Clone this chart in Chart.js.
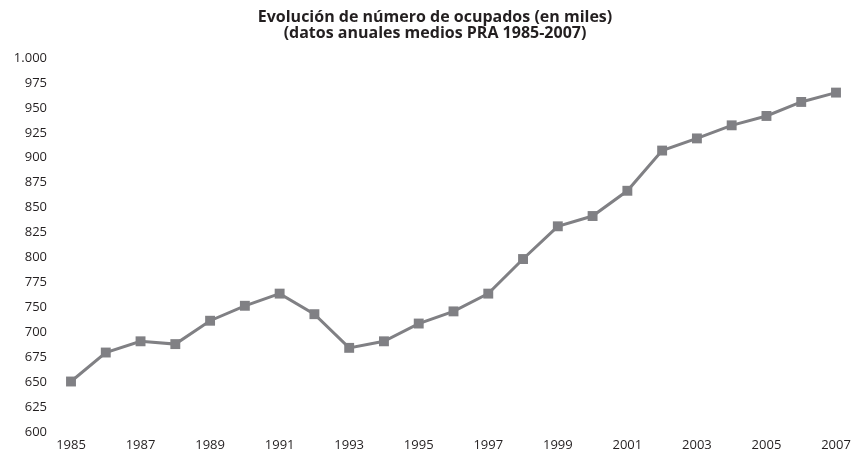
<!DOCTYPE html>
<html>
<head>
<meta charset="utf-8">
<script src="https://cdn.jsdelivr.net/npm/chart.js@4.4.1/dist/chart.umd.min.js"></script>
<style>
  html, body { margin: 0; padding: 0; background: #ffffff; }
  #wrap { width: 859px; height: 456px; position: relative; }
</style>
</head>
<body>
<div id="wrap"><canvas id="c" width="859" height="456"></canvas></div>
<script>
// Data
const years = ['1985','1986','1987','1988','1989','1990','1991','1992','1993','1994','1995','1996',
               '1997','1998','1999','2000','2001','2002','2003','2004','2005','2006','2007'];
const ocupados = [654, 685, 697, 694, 719, 735, 748, 726, 690, 697, 716, 729,
                  748, 785, 820, 831, 858, 901, 914, 928, 938, 953, 963];
// Y tick labels exactly as printed in the reference (evenly spaced from 600 to 1.000)
const yTickLabels = ['600','625','650','675','700','750','775','800','825','850','875','900','925','950','975','1.000'];
const yMin = 600, yMax = 1000;
const titleLines = ['Evolución de número de ocupados (en miles)', '(datos anuales medios PRA 1985-2007)'];

const FONT = "'Open Sans', 'DejaVu Sans', sans-serif";
const TEXT = '#231f20';
const LINE = '#808084';

new Chart(document.getElementById('c'), {
  type: 'line',
  data: {
    labels: years,
    datasets: [{
      data: ocupados,
      borderColor: LINE,
      backgroundColor: LINE,
      borderWidth: 3,
      pointStyle: 'rect',
      pointRadius: 7,
      pointBorderWidth: 0,
      pointBackgroundColor: LINE,
      tension: 0,
      fill: false
    }]
  },
  options: {
    responsive: false,
    animation: false,
    devicePixelRatio: 1,
    layout: { padding: { left: 11, right: 0, top: 0, bottom: 0 } },
    plugins: {
      legend: { display: false },
      tooltip: { enabled: false },
      title: {
        display: true,
        text: titleLines,
        color: TEXT,
        font: { family: FONT, size: 16, weight: 'bold', lineHeight: 1.0 },
        padding: { top: 9, bottom: 17 }
      }
    },
    scales: {
      x: {
        type: 'category',
        offset: false,
        grid: { display: false, drawTicks: false },
        border: { display: false },
        ticks: {
          autoSkip: false,
          maxRotation: 0,
          minRotation: 0,
          padding: 5,
          color: TEXT,
          font: { family: FONT, size: 13 },
          callback: function(v, i) { return i % 2 === 0 ? years[i] : ''; }
        },
        afterFit: function(s) { s.height = 24; }
      },
      y: {
        min: yMin,
        max: yMax,
        grid: { display: false, drawTicks: false },
        border: { display: false },
        afterBuildTicks: function(s) {
          const n = yTickLabels.length - 1;
          s.ticks = yTickLabels.map((l, i) => ({ value: yMin + i * (yMax - yMin) / n }));
        },
        ticks: {
          autoSkip: false,
          padding: 24,
          color: TEXT,
          font: { family: FONT, size: 13 },
          callback: function(v, i) { return yTickLabels[i]; }
        },
        afterFit: function(s) { s.width = 60; s.paddingTop = 0; s.paddingBottom = 0; }
      },
      y2: {
        type: 'linear',
        position: 'right',
        display: true,
        grid: { display: false, drawTicks: false },
        border: { display: false },
        ticks: { display: false },
        afterFit: function(s) { s.width = 23; s.paddingTop = 0; s.paddingBottom = 0; }
      }
    }
  }
});
</script>
</body>
</html>
